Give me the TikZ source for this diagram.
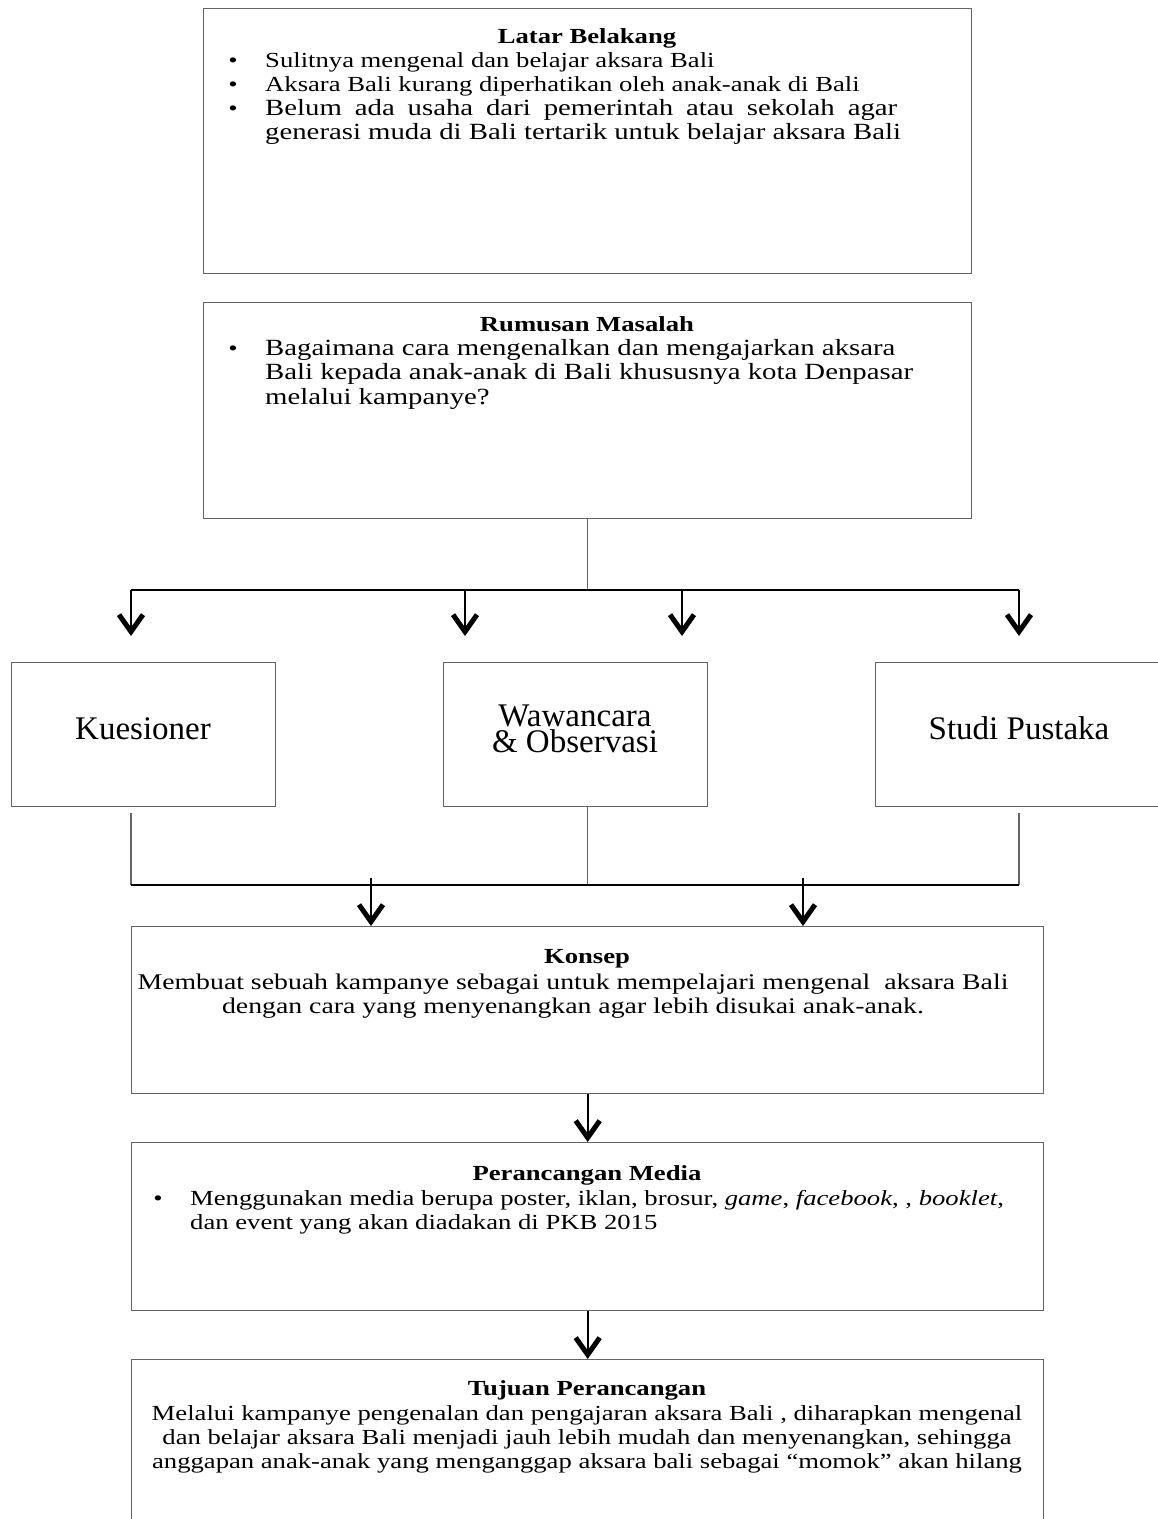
\documentclass[tikz,border=0pt]{standalone}
\usepackage{fontspec}
\setmainfont{Liberation Serif}[FakeStretch=1.24]
\newfontfamily\bigserif{Liberation Serif}
\usetikzlibrary{arrows.meta}
\definecolor{bordergray}{RGB}{100,100,100}
\begin{document}
\begin{tikzpicture}[x=1pt,y=-1pt,
  box/.style={draw=bordergray, line width=1.4pt, rectangle, anchor=north west, inner sep=0pt},
  txt/.style={anchor=base, inner sep=0pt, font=\fontsize{21.5}{24}\selectfont},
  txtl/.style={anchor=base west, inner sep=0pt, font=\fontsize{21.5}{24}\selectfont},
  txtm/.style={anchor=base, inner sep=0pt, font=\fontsize{22.4}{24}\selectfont},
  txtlb/.style={anchor=base west, inner sep=0pt, font=\fontsize{23.2}{24}\selectfont},
  head/.style={anchor=base, inner sep=0pt, font=\fontsize{21.5}{24}\selectfont\bfseries},
  big/.style={inner sep=0pt, font=\bigserif\fontsize{33}{26}\selectfont},
  thin/.style={draw=bordergray, line width=1.4pt},
  barline/.style={draw=black, line width=2.4pt},
  arr/.style={draw=black, line width=2.4pt, -{Straight Barb[length=17pt, width=24pt, line width=5pt]}}
]
\useasboundingbox (0,0) rectangle (1158,1519);

% boxes
\node[box, minimum width=768pt, minimum height=265pt] (latar) at (203,8) {};
\node[box, minimum width=768pt, minimum height=216pt] (rumus) at (203,302) {};
\node[box, minimum width=264pt, minimum height=144pt] (kues) at (11,662) {};
\node[box, minimum width=264pt, minimum height=144pt] (waw) at (443,662) {};
\node[box, minimum width=290pt, minimum height=144pt] (studi) at (875,662) {};
\node[box, minimum width=912pt, minimum height=167pt] (konsep) at (131,926) {};
\node[box, minimum width=912pt, minimum height=168pt] (peran) at (131,1142) {};
\node[box, minimum width=912pt, minimum height=200pt] (tujuan) at (131,1359) {};

% Latar Belakang text
\node[head] (h1) at (587,43) {Latar Belakang};
\node[txt] (b11) at (233,67) {•};
\node[txtl] (t11) at (265,67) {Sulitnya mengenal dan belajar aksara Bali};
\node[txt] (b12) at (233,91) {•};
\node[txtl] (t12) at (265,91) {Aksara Bali kurang diperhatikan oleh anak-anak di Bali};
\node[txt] (b13) at (233,115) {•};
\node[txtlb] (t13) at (265,115) {\makebox[632pt][s]{Belum ada usaha dari pemerintah atau sekolah agar}};
\node[txtlb] (t14) at (265,139.5) {generasi muda di Bali tertarik untuk belajar aksara Bali};

% Rumusan Masalah text
\node[head] (h2) at (587,331) {Rumusan Masalah};
\node[txt] (b21) at (233,355) {•};
\node[txtlb] (t21) at (265,355) {Bagaimana cara mengenalkan dan mengajarkan aksara};
\node[txtlb] (t22) at (265,379) {Bali kepada anak-anak di Bali khususnya kota Denpasar};
\node[txtlb] (t23) at (265,404) {melalui kampanye?};

% middle boxes text
\node[big, anchor=base] (tk) at (143,739) {Kuesioner};
\node[big, align=center] (tw) at (575,729) {Wawancara\\\& Observasi};
\node[big, anchor=base] (ts) at (1019,739) {Studi Pustaka};

% Konsep text
\node[head] (h3) at (587,963) {Konsep};
\node[txtm] (t31) at (573,989) {Membuat sebuah kampanye sebagai untuk mempelajari mengenal\ \ aksara Bali};
\node[txtm] (t32) at (573,1013) {dengan cara yang menyenangkan agar lebih disukai anak-anak.};

% Perancangan Media text
\node[head] (h4) at (587,1180) {Perancangan Media};
\node[txt] (b41) at (158,1205) {•};
\node[txtl] (t41) at (190,1205) {Menggunakan media berupa poster, iklan, brosur, \textit{game}, \textit{facebook}, , \textit{booklet},};
\node[txtl] (t42) at (190,1229) {dan event yang akan diadakan di PKB 2015};

% Tujuan Perancangan text
\node[head] (h5) at (587,1395.5) {Tujuan Perancangan};
\node[txt] (t51) at (587,1420.5) {Melalui kampanye pengenalan dan pengajaran aksara Bali , diharapkan mengenal};
\node[txt] (t52) at (587,1444.5) {dan belajar aksara Bali menjadi jauh lebih mudah dan menyenangkan, sehingga};
\node[txt] (t53) at (587,1468.5) {anggapan anak-anak yang menganggap aksara bali sebagai “momok” akan hilang};

% top distribution
\coordinate (s1) at (131,590);
\coordinate (s2) at (465,590);
\coordinate (s3) at (682,590);
\coordinate (s4) at (1019,590);
\coordinate (e1) at (131,636);
\coordinate (e2) at (465,636);
\coordinate (e3) at (682,636);
\coordinate (e4) at (1019,636);
\draw[thin] (rumus.south) -- (rumus.south |- s1);
\draw[barline] (s1) -- (s4);
\draw[arr] (s1) -- (e1);
\draw[arr] (s2) -- (e2);
\draw[arr] (s3) -- (e3);
\draw[arr] (s4) -- (e4);

% bottom collection
\coordinate (k1) at (131,813);
\coordinate (k3) at (1019,813);
\coordinate (c1) at (131,885);
\coordinate (c4) at (1019,885);
\coordinate (m1) at (371,878);
\coordinate (m2) at (803,878);
\draw[thin] (k1) -- (c1);
\draw[thin] (waw.south -| rumus.south) -- (rumus.south |- c1);
\draw[thin] (k3) -- (c4);
\draw[barline] (c1) -- (c4);
\draw[arr] (m1) -- (m1 |- konsep.north);
\draw[arr] (m2) -- (m2 |- konsep.north);

% vertical flow
\draw[arr] (konsep.south) -- (peran.north);
\draw[arr] (peran.south) -- (tujuan.north);
\end{tikzpicture}
\end{document}
